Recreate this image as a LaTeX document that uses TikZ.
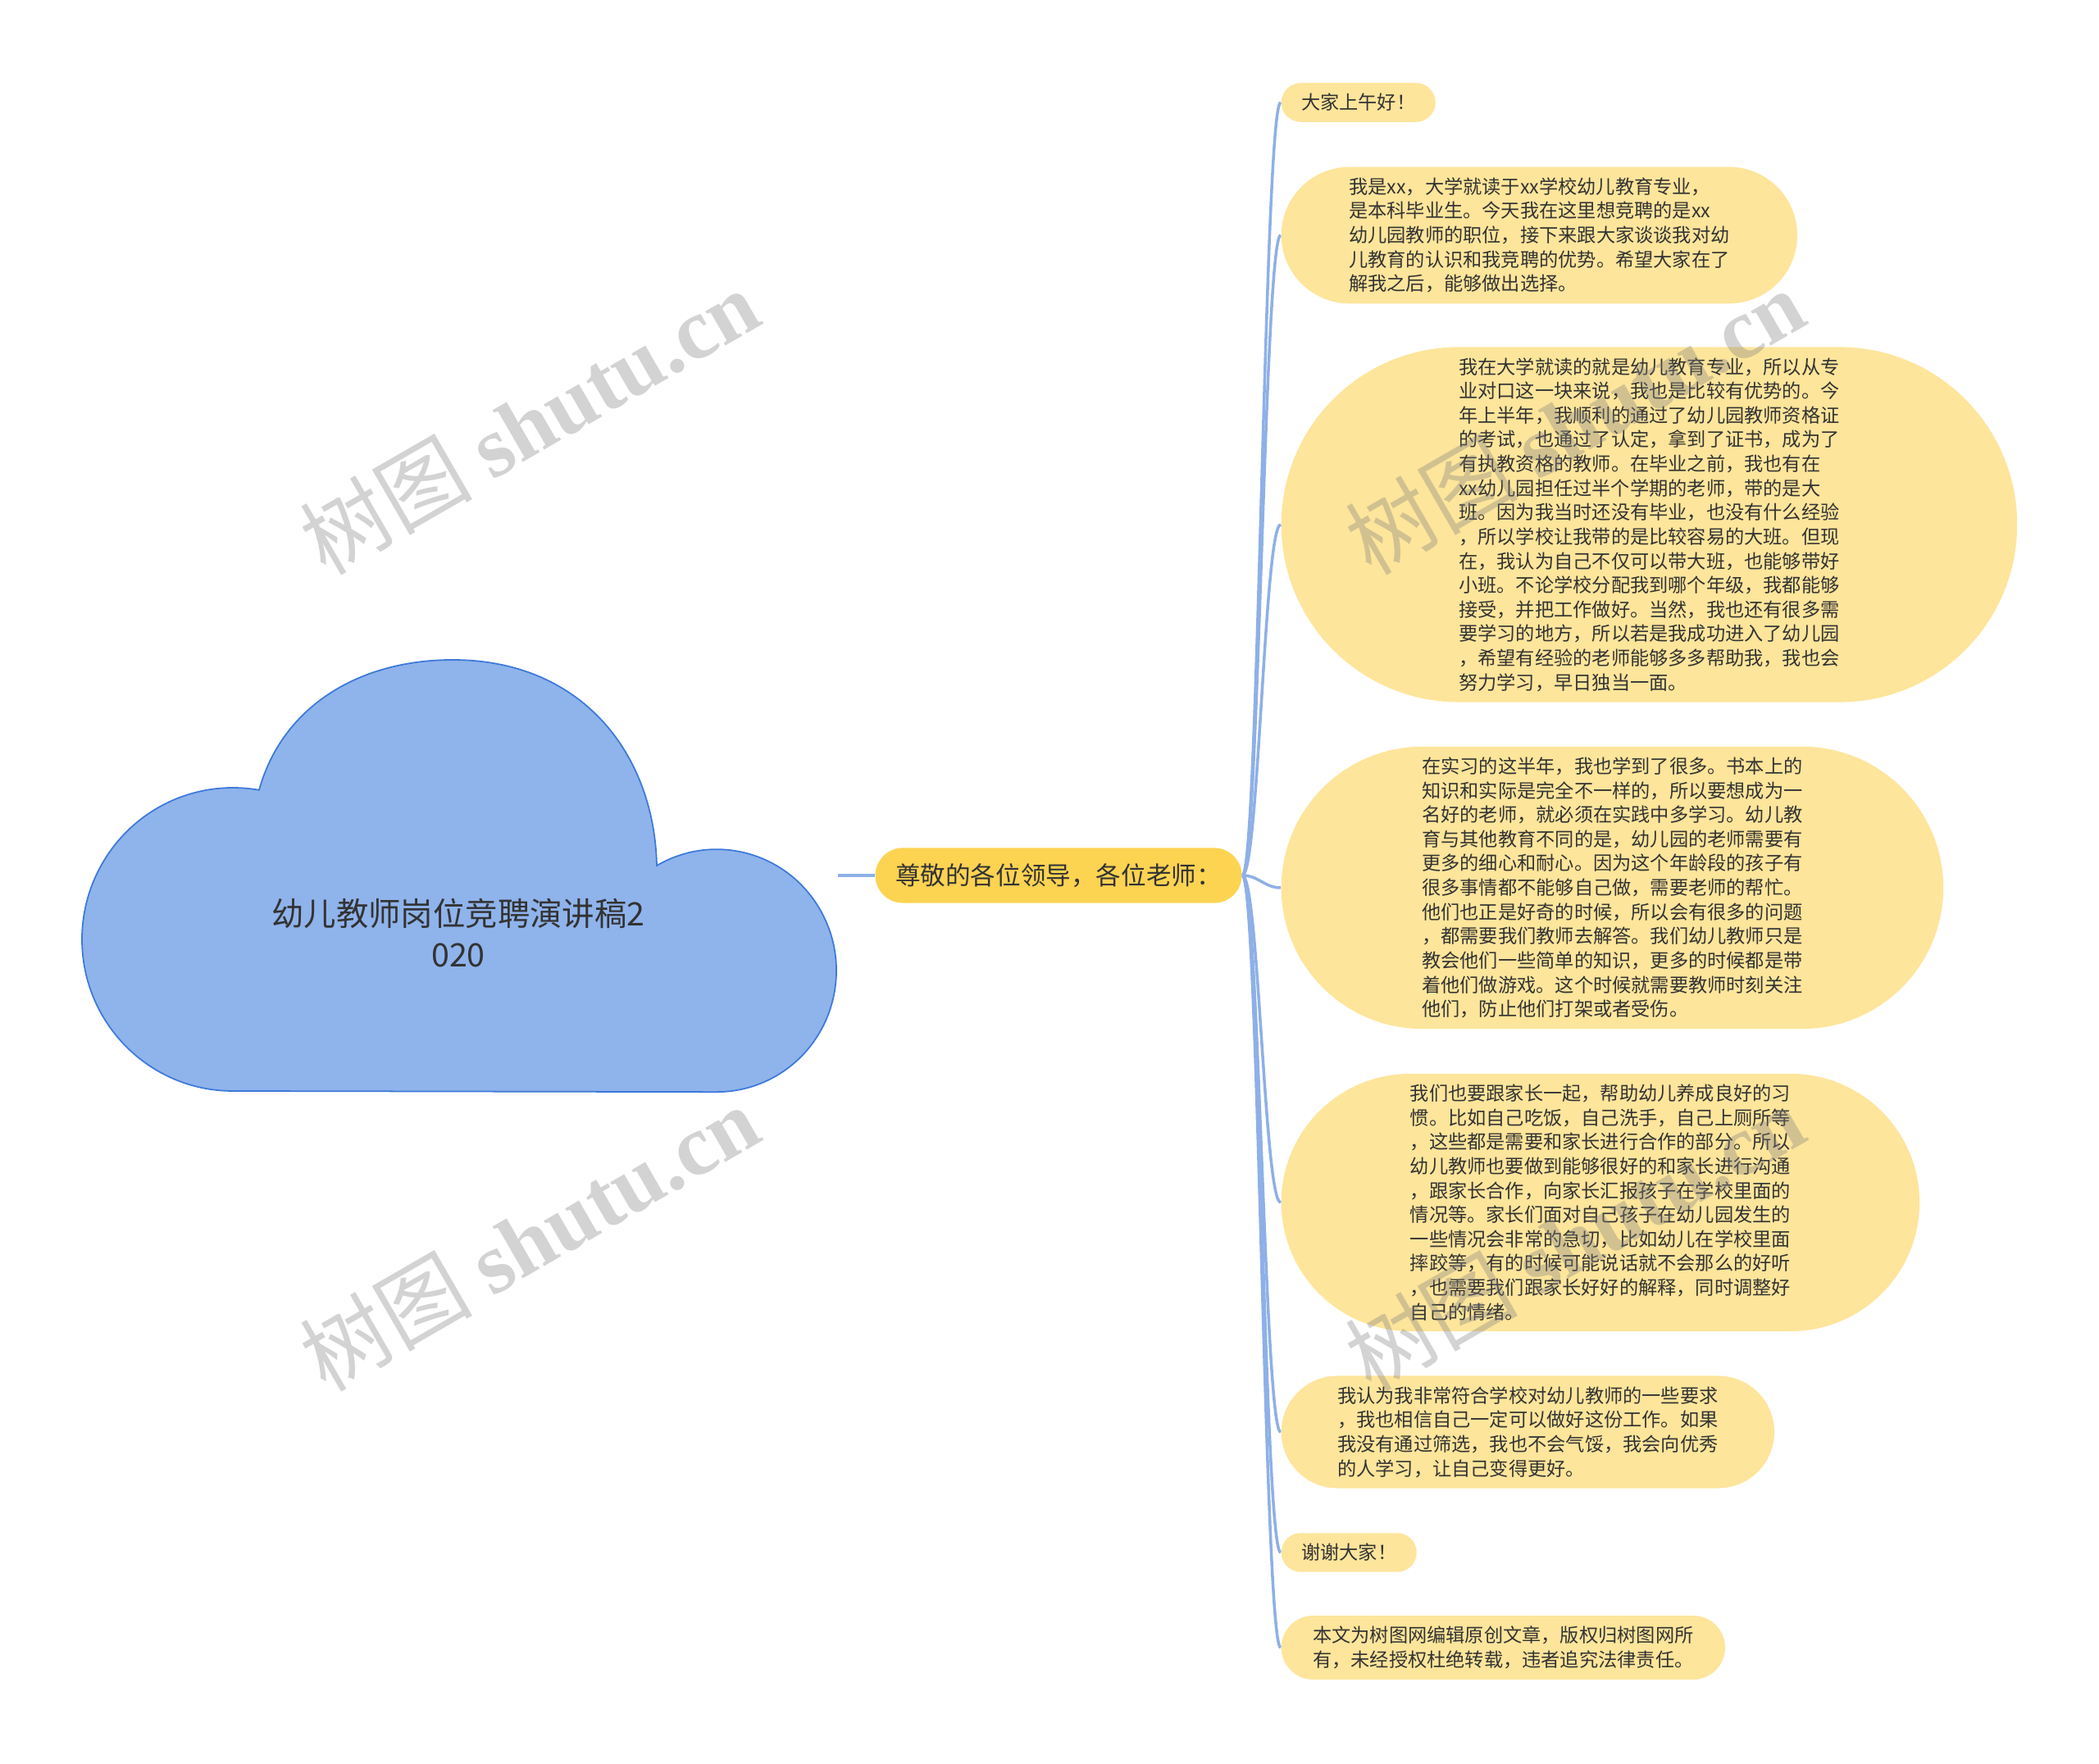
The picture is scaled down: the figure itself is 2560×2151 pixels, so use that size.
\documentclass[tikz,border=0pt]{standalone}
\usepackage{fontspec}
\setmainfont{Noto Sans CJK SC}
\newfontfamily\wmserif{Liberation Serif}
\usetikzlibrary{shapes.misc}
\definecolor{cloudfill}{HTML}{8FB3EB}
\definecolor{cloudline}{HTML}{3D79D9}
\definecolor{linkblue}{HTML}{8EB0E7}
\definecolor{rootfill}{HTML}{FDD352}
\definecolor{leaffill}{HTML}{FDE59B}
\definecolor{inkgray}{HTML}{333333}
\tikzset{
  leaf/.style={rounded rectangle, fill=leaffill, text=inkgray, align=left,
    inner xsep=1pt, inner ysep=3.7pt, anchor=west, minimum width=#1,
    font=\fontsize{6.6}{8.42}\selectfont},
  rootnode/.style={rounded rectangle, fill=rootfill, text=inkgray,
    inner xsep=1.9pt, inner ysep=5.4pt, minimum width=4.6cm,
    font=\fontsize{8.7}{10}\selectfont},
  link/.style={draw=linkblue, line width=1pt},
  rootlink/.style={draw=linkblue, line width=1.4pt},
  wmark/.style={text=gray, opacity=0.35, rotate=30,
    font=\fontsize{30}{30}\selectfont},
}
\begin{document}
\begin{tikzpicture}[x=0.01cm,y=0.01cm]
\useasboundingbox (0,0) rectangle (2560,2151);
% cloud
\draw[fill=cloudfill, draw=cloudline, line width=0.5pt]
  (284,820) arc[start angle=270, end angle=80, x radius=184, y radius=185]
  .. controls (345,1291) and (440,1346) .. (552,1346)
  .. controls (710,1346) and (798,1231) .. (801,1095)
  arc[start angle=120, end angle=-90, x radius=146, y radius=148]
  -- cycle;
\node[text=inkgray, align=center, font=\fontsize{11.2}{14.2}\selectfont] (title) at (559,1013) {幼儿教师岗位竞聘演讲稿2\\020};
\coordinate (cloudtip) at (1022,1083);
\node[rootnode] (root) at (1291,1083) {尊敬的各位领导，各位老师：};
\draw[rootlink] (cloudtip) -- (root.west);
% leaves
\node[leaf=1.95cm] (hello) at (1562,2026) {大家上午好！};
\node[leaf=6.36cm] (intro) at (1562,1864) {我是xx，大学就读于xx学校幼儿教育专业，\\是本科毕业生。今天我在这里想竞聘的是xx\\幼儿园教师的职位，接下来跟大家谈谈我对幼\\儿教育的认识和我竞聘的优势。希望大家在了\\解我之后，能够做出选择。};
\node[leaf=9.04cm] (major) at (1562,1511) {我在大学就读的就是幼儿教育专业，所以从专\\业对口这一块来说，我也是比较有优势的。今\\年上半年，我顺利的通过了幼儿园教师资格证\\的考试，也通过了认定，拿到了证书，成为了\\有执教资格的教师。在毕业之前，我也有在\\xx幼儿园担任过半个学期的老师，带的是大\\班。因为我当时还没有毕业，也没有什么经验\\，所以学校让我带的是比较容易的大班。但现\\在，我认为自己不仅可以带大班，也能够带好\\小班。不论学校分配我到哪个年级，我都能够\\接受，并把工作做好。当然，我也还有很多需\\要学习的地方，所以若是我成功进入了幼儿园\\，希望有经验的老师能够多多帮助我，我也会\\努力学习，早日独当一面。};
\node[leaf=8.14cm] (practice) at (1562,1068) {在实习的这半年，我也学到了很多。书本上的\\知识和实际是完全不一样的，所以要想成为一\\名好的老师，就必须在实践中多学习。幼儿教\\育与其他教育不同的是，幼儿园的老师需要有\\更多的细心和耐心。因为这个年龄段的孩子有\\很多事情都不能够自己做，需要老师的帮忙。\\他们也正是好奇的时候，所以会有很多的问题\\，都需要我们教师去解答。我们幼儿教师只是\\教会他们一些简单的知识，更多的时候都是带\\着他们做游戏。这个时候就需要教师时刻关注\\他们，防止他们打架或者受伤。};
\node[leaf=7.85cm] (parents) at (1562,684) {我们也要跟家长一起，帮助幼儿养成良好的习\\惯。比如自己吃饭，自己洗手，自己上厕所等\\，这些都是需要和家长进行合作的部分。所以\\幼儿教师也要做到能够很好的和家长进行沟通\\，跟家长合作，向家长汇报孩子在学校里面的\\情况等。家长们面对自己孩子在幼儿园发生的\\一些情况会非常的急切，比如幼儿在学校里面\\摔跤等，有的时候可能说话就不会那么的好听\\，也需要我们跟家长好好的解释，同时调整好\\自己的情绪。};
\node[leaf=6.08cm] (fit) at (1562,404) {我认为我非常符合学校对幼儿教师的一些要求\\，我也相信自己一定可以做好这份工作。如果\\我没有通过筛选，我也不会气馁，我会向优秀\\的人学习，让自己变得更好。};
\node[leaf=1.72cm] (thanks) at (1562,257) {谢谢大家！};
\node[leaf=5.48cm] (notice) at (1562,141) {本文为树图网编辑原创文章，版权归树图网所\\有，未经授权杜绝转载，违者追究法律责任。};
% links
\draw[link] (root.east) .. controls +(20,0) and +(-20,0) .. (hello.west);
\draw[link] (root.east) .. controls +(20,0) and +(-20,0) .. (intro.west);
\draw[link] (root.east) .. controls +(20,0) and +(-20,0) .. (major.west);
\draw[link] (root.east) .. controls +(20,0) and +(-20,0) .. (practice.west);
\draw[link] (root.east) .. controls +(20,0) and +(-20,0) .. (parents.west);
\draw[link] (root.east) .. controls +(20,0) and +(-20,0) .. (fit.west);
\draw[link] (root.east) .. controls +(20,0) and +(-20,0) .. (thanks.west);
\draw[link] (root.east) .. controls +(20,0) and +(-20,0) .. (notice.west);
% watermarks
\node[wmark] at (645,1637) {树图 {\wmserif\bfseries shutu.cn}};
\node[wmark] at (645,641) {树图 {\wmserif\bfseries shutu.cn}};
\node[wmark] at (1920,1637) {树图 {\wmserif\bfseries shutu.cn}};
\node[wmark] at (1920,641) {树图 {\wmserif\bfseries shutu.cn}};
\end{tikzpicture}
\end{document}
